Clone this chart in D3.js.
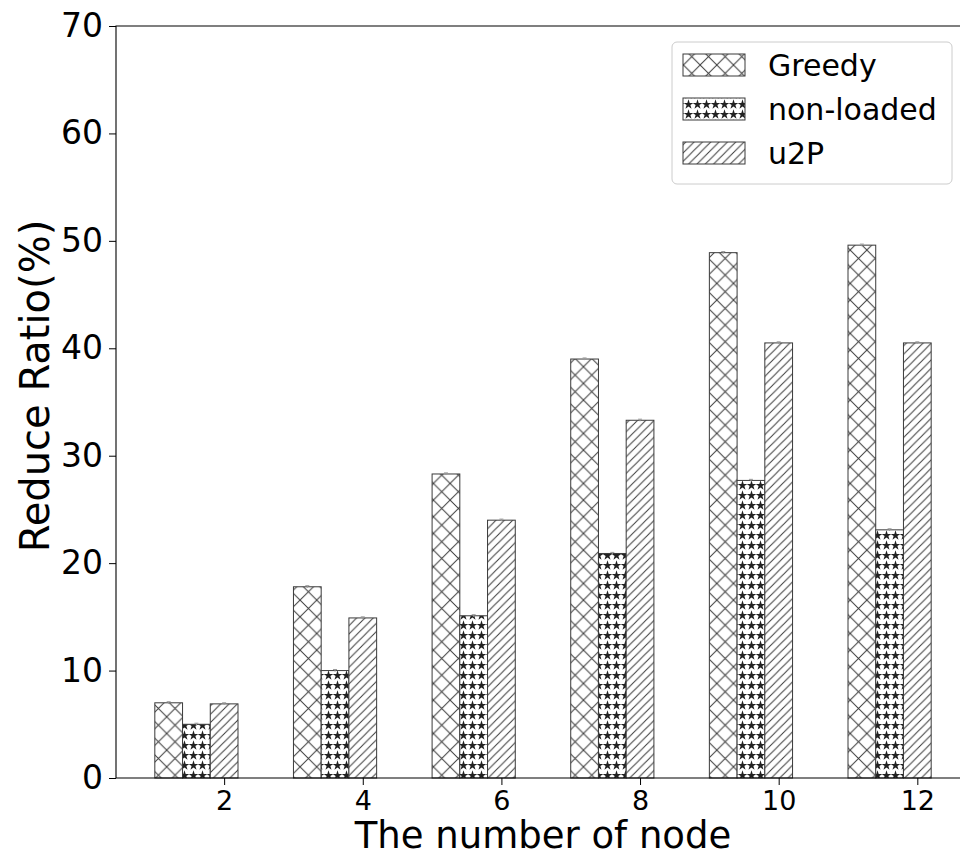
<!DOCTYPE html>
<html>
<head>
<meta charset="utf-8">
<script src="https://cdn.jsdelivr.net/npm/d3@7"></script>
<style>
  body { margin: 0; background: #fff; }
  svg { font-family: "DejaVu Sans", sans-serif; display: block; }
</style>
</head>
<body>
<div id="chart"></div>
<script>
// ---------------- data ----------------
const nodes = [2, 4, 6, 8, 10, 12];
const seriesNames = ['Greedy', 'non-loaded', 'u2P'];
const greedy = [7.0, 17.8, 28.3, 39.0, 48.9, 49.6];
const nonLoaded = [5.0, 10.0, 15.1, 20.9, 27.7, 23.1];
const u2p = [6.9, 14.9, 24.0, 33.3, 40.5, 40.5];
const errs = [0.1, 0.1, 0.1, 0.1, 0.1, 0.1];
const yTicks = [0, 10, 20, 30, 40, 50, 60, 70];
const xTicks = [2, 4, 6, 8, 10, 12];

const width = 960, height = 856;
const margin = {left: 116, top: 26, right: 970, bottom: 778}; // axes box in px

const svg = d3.select('#chart').append('svg')
  .attr('width', width)
  .attr('height', height);

// ---------------- hatches ----------------
const defs = svg.append('defs');
const hatchColor = '#3a3a3a';

const px = defs.append('pattern').attr('id', 'h-x')
  .attr('patternUnits', 'userSpaceOnUse')
  .attr('width', 16.67).attr('height', 16.67);
px.append('path')
  .attr('d', 'M-2,-2L18.67,18.67M-2,18.67L18.67,-2')
  .attr('stroke', hatchColor).attr('stroke-width', 1);

const ps = defs.append('pattern').attr('id', 'h-slash')
  .attr('patternUnits', 'userSpaceOnUse')
  .attr('width', 8.33).attr('height', 8.33);
ps.append('path')
  .attr('d', 'M-1,9.33L9.33,-1M-2,2L2,-2M6.33,10.33L10.33,6.33')
  .attr('stroke', hatchColor).attr('stroke-width', 1);

const pst = defs.append('pattern').attr('id', 'h-star')
  .attr('patternUnits', 'userSpaceOnUse')
  .attr('width', 9).attr('height', 10);
pst.append('path')
  .attr('d', d3.symbol(d3.symbolStar, 30)())
  .attr('transform', 'translate(4.5,5.5)')
  .attr('fill', '#222');

const fills = ['url(#h-x)', 'url(#h-star)', 'url(#h-slash)'];

// ---------------- scales ----------------
const x = d3.scaleLinear().domain([0.44, 12.76]).range([margin.left, margin.right]);
const y = d3.scaleLinear().domain([0, 70]).range([margin.bottom, margin.top]);
const barW = 0.4;
const offsets = [-0.8, -0.4, 0];

const data = nodes.map((n, i) => ({
  n: n,
  vals: [greedy[i], nonLoaded[i], u2p[i]],
  err: errs[i]
}));

// ---------------- bars ----------------
const groups = svg.append('g').selectAll('g')
  .data(data).enter().append('g');

groups.selectAll('g')
  .data(d => d.vals.map((v, k) => ({n: d.n, v: v, k: k, err: d.err})))
  .enter().append('g')
  .each(function(d) {
    const g = d3.select(this);
    const x0 = x(d.n + offsets[d.k] - barW / 2);
    const x1 = x(d.n + offsets[d.k] + barW / 2);
    g.append('rect')
      .attr('x', x0).attr('y', y(d.v))
      .attr('width', x1 - x0).attr('height', y(0) - y(d.v))
      .attr('fill', '#fff');
    g.append('rect')
      .attr('x', x0).attr('y', y(d.v))
      .attr('width', x1 - x0).attr('height', y(0) - y(d.v))
      .attr('fill', fills[d.k])
      .attr('stroke', hatchColor).attr('stroke-width', 1);
    // tiny error bars
    const cx = x(d.n + offsets[d.k]);
    g.append('path')
      .attr('d', `M${cx},${y(d.v - d.err)}V${y(d.v + d.err)}M${cx - 2},${y(d.v + d.err)}H${cx + 2}`)
      .attr('stroke', '#999').attr('stroke-width', 1).attr('fill', 'none');
  });

// ---------------- axes ----------------
const yAxis = svg.append('g')
  .attr('transform', `translate(${margin.left},0)`)
  .call(d3.axisLeft(y).tickValues(yTicks).tickSize(7).tickPadding(6));
yAxis.selectAll('text').attr('font-size', 33).attr('fill', '#000')
  .attr('font-family', '"DejaVu Sans", sans-serif');

const xAxis = svg.append('g')
  .attr('transform', `translate(0,${margin.bottom})`)
  .call(d3.axisBottom(x).tickValues(xTicks).tickSize(7).tickPadding(6));
xAxis.selectAll('text').attr('font-size', 27).attr('fill', '#000')
  .attr('font-family', '"DejaVu Sans", sans-serif');

[yAxis, xAxis].forEach(a => {
  a.select('.domain').remove();
  a.selectAll('line').attr('stroke', '#000').attr('stroke-width', 1);
});

// spines
svg.append('path')
  .attr('d', `M${margin.left},${margin.bottom}V${margin.top}H${margin.right}V${margin.bottom}Z`)
  .attr('fill', 'none').attr('stroke', '#000').attr('stroke-width', 1.1);

// labels
svg.append('text')
  .attr('x', (margin.left + margin.right) / 2)
  .attr('y', 848)
  .attr('text-anchor', 'middle')
  .attr('font-size', 37)
  .text('The number of node');

svg.append('text')
  .attr('transform', `translate(49,386) rotate(-90)`)
  .attr('text-anchor', 'middle')
  .attr('font-size', 40)
  .text('Reduce Ratio(%)');

// ---------------- legend ----------------
const legend = svg.append('g');
legend.append('rect')
  .attr('x', 672).attr('y', 42).attr('width', 280).attr('height', 142)
  .attr('rx', 5)
  .attr('fill', '#fff').attr('fill-opacity', 0.8)
  .attr('stroke', '#ccc').attr('stroke-width', 1);

const items = legend.selectAll('g.item')
  .data(seriesNames).enter().append('g')
  .attr('class', 'item')
  .attr('transform', (d, i) => `translate(0,${65 + i * 44})`);

items.append('rect')
  .attr('x', 683).attr('y', -11).attr('width', 62).attr('height', 22)
  .attr('fill', (d, i) => fills[i])
  .attr('stroke', hatchColor).attr('stroke-width', 1);

items.append('text')
  .attr('x', 768).attr('y', 0).attr('dy', '0.35em')
  .attr('font-size', 30)
  .text(d => d);
</script>
</body>
</html>
